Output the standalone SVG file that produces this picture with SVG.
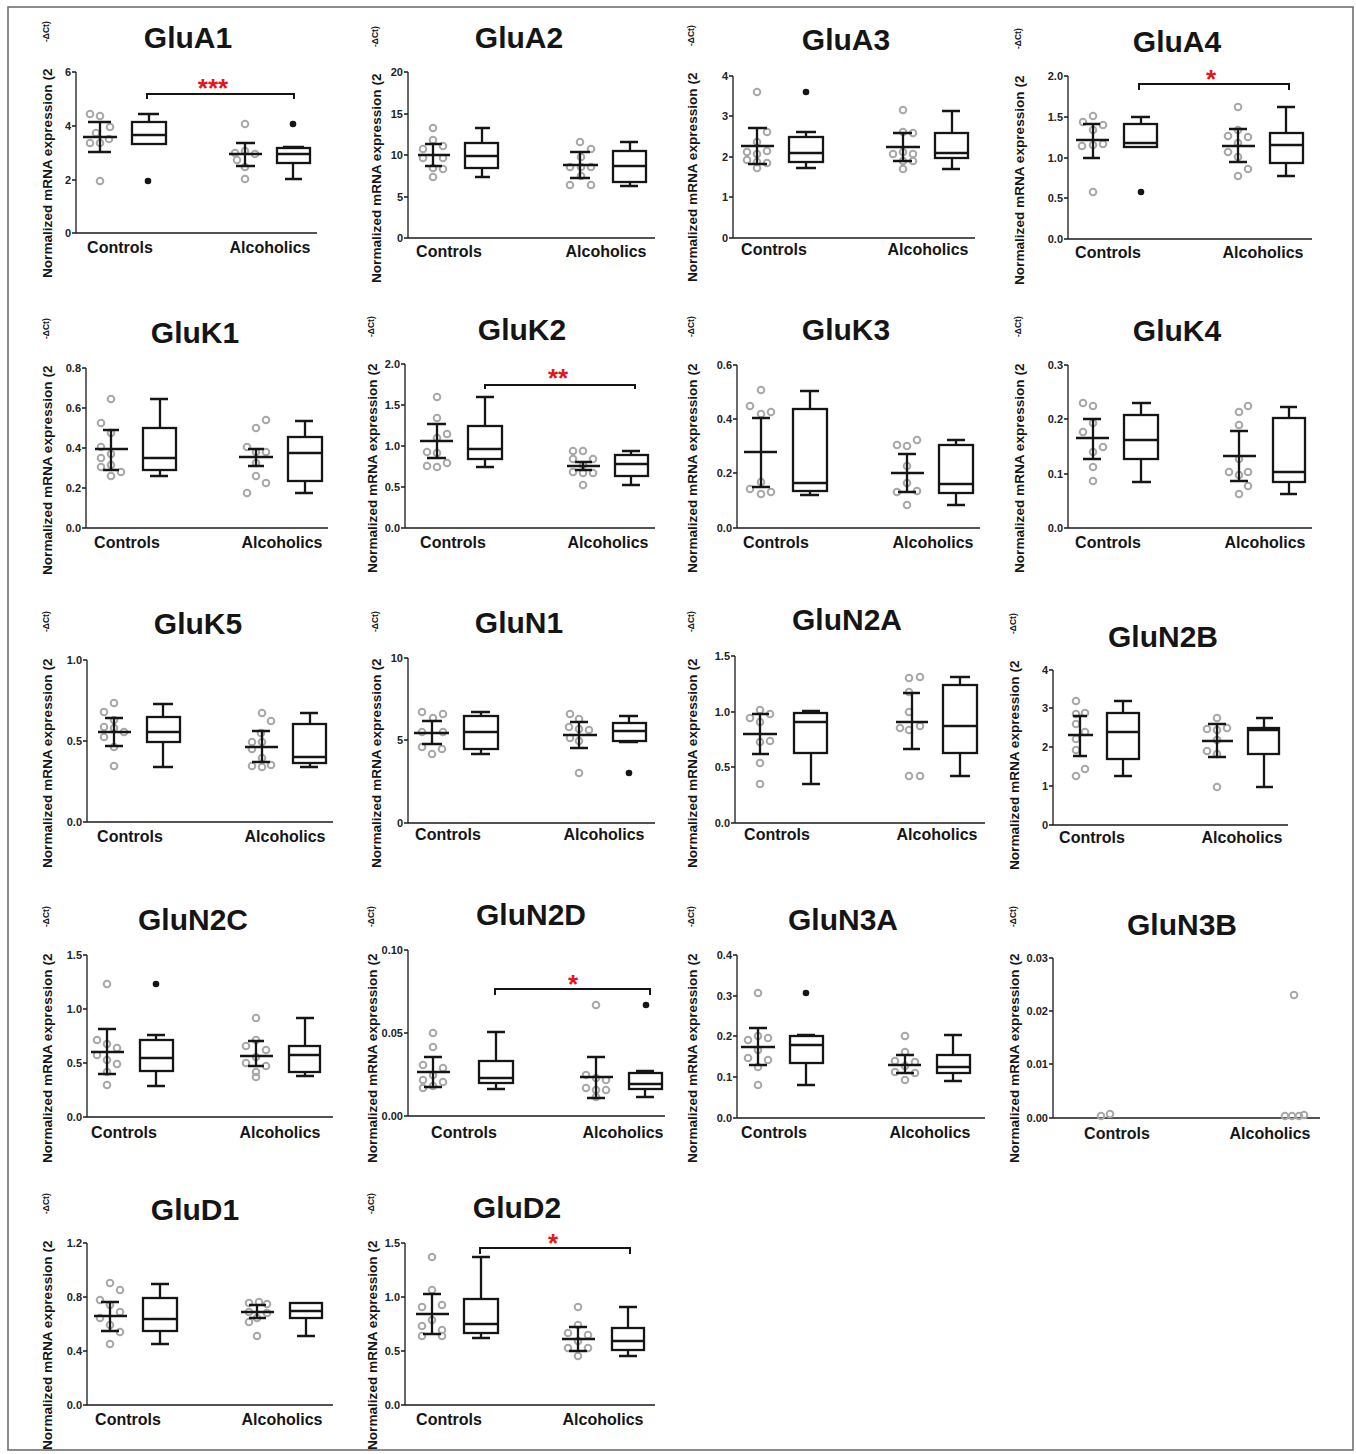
<svg xmlns="http://www.w3.org/2000/svg" width="1356" height="1454" viewBox="0 0 1356 1454">
<style>
.frame{fill:#fff;stroke:#707070;stroke-width:1.6}
.ax{stroke:#1a1a1a;stroke-width:1.3;fill:none}
text{font-family:"Liberation Sans",Arial,sans-serif;font-weight:bold}
.tl{font-size:11px;fill:#222;text-anchor:end}
.tt{font-size:30px;fill:#151515;text-anchor:middle}
.gl{font-size:16px;fill:#151515;text-anchor:middle}
.yl{font-size:13.6px;fill:#151515}
.ys{font-size:8.5px;fill:#151515}
.pt{fill:none;stroke:#a8a8a8;stroke-width:2}
.ol{fill:#151515}
.ln{stroke:#151515;stroke-width:2.3;fill:none}
.bx{fill:#fff;stroke:#151515;stroke-width:2.3}
.sg{font-size:26px;fill:#e8141b;text-anchor:middle}
</style>
<defs>
<circle id="p" r="3.3" class="pt"/>
<circle id="o" r="3.3" class="ol"/>
</defs>
<rect class="frame" x="8" y="7" width="1345" height="1443"/>

<!-- GluA1 -->
<g id="GluA1">
<path class="ax" d="M76,72V233H317M72,72H76M72,126H76M72,180H76M72,233H76"/>
<text class="tl" x="71" y="76">6</text><text class="tl" x="71" y="130">4</text><text class="tl" x="71" y="184">2</text><text class="tl" x="71" y="237">0</text>
<text class="tt" x="188" y="48">GluA1</text>
<text class="gl" x="120" y="253">Controls</text><text class="gl" x="270" y="253">Alcoholics</text>
<text class="yl" x="52" y="278" transform="rotate(-90 52 278)">Normalized mRNA expression (2</text>
<text class="ys" x="49" y="42" transform="rotate(-90 49 42)">-ΔCt)</text>
<use href="#p" x="90" y="114"/><use href="#p" x="100" y="116"/><use href="#p" x="110" y="127"/><use href="#p" x="96" y="133"/><use href="#p" x="90" y="143"/><use href="#p" x="100" y="143"/><use href="#p" x="109" y="139"/><use href="#p" x="100" y="181"/>
<path class="ln" d="M83,137H117M100,122V152M88,122H111M88,152H111"/>
<rect class="bx" x="132" y="122" width="34" height="22"/>
<path class="ln" d="M132,135H166M149,122V114M138,114H159"/>
<use href="#o" x="148" y="181"/>
<use href="#p" x="245" y="124"/><use href="#p" x="235" y="153"/><use href="#p" x="245" y="151"/><use href="#p" x="255" y="154"/><use href="#p" x="237" y="160"/><use href="#p" x="245" y="167"/><use href="#p" x="245" y="179"/>
<path class="ln" d="M229,154H262M245,143V166M236,143H255M236,166H255"/>
<rect class="bx" x="277" y="148" width="33" height="15"/>
<path class="ln" d="M277,154H310M283,147H304M293,163V179M285,179H302"/>
<use href="#o" x="293" y="124"/>
<path class="ln" d="M147,99V94H294V99" style="stroke-width:2"/>
<text class="sg" x="213" y="97">***</text>
</g>

<!-- GluA2 -->
<g id="GluA2">
<path class="ax" d="M408,72V238H655M404,72H408M404,114H408M404,155H408M404,197H408M404,238H408"/>
<text class="tl" x="403" y="76">20</text><text class="tl" x="403" y="118">15</text><text class="tl" x="403" y="159">10</text><text class="tl" x="403" y="201">5</text><text class="tl" x="403" y="242">0</text>
<text class="tt" x="519" y="48">GluA2</text>
<text class="gl" x="449" y="257">Controls</text><text class="gl" x="606" y="257">Alcoholics</text>
<text class="yl" x="381" y="283" transform="rotate(-90 381 283)">Normalized mRNA expression (2</text>
<text class="ys" x="378" y="47" transform="rotate(-90 378 47)">-ΔCt)</text>
<use href="#p" x="433" y="128"/><use href="#p" x="433" y="140"/><use href="#p" x="443" y="146"/><use href="#p" x="423" y="149"/><use href="#p" x="443" y="158"/><use href="#p" x="423" y="158"/><use href="#p" x="433" y="168"/><use href="#p" x="443" y="169"/><use href="#p" x="433" y="177"/>
<path class="ln" d="M418,155H450M433,144V166M425,144H442M425,166H442"/>
<rect class="bx" x="465" y="143" width="33" height="25"/>
<path class="ln" d="M465,156H498M482,143V128M475,128H490M482,168V177M475,177H490"/>
<use href="#p" x="580" y="142"/><use href="#p" x="591" y="149"/><use href="#p" x="581" y="157"/><use href="#p" x="570" y="167"/><use href="#p" x="581" y="167"/><use href="#p" x="591" y="167"/><use href="#p" x="570" y="185"/><use href="#p" x="581" y="176"/><use href="#p" x="591" y="185"/>
<path class="ln" d="M563,165H598M580,152V178M570,152H590M570,178H590"/>
<rect class="bx" x="613" y="151" width="33" height="31"/>
<path class="ln" d="M613,166H646M630,151V142M620,142H638M630,182V186M620,186H638"/>
</g>

<!-- GluA3 -->
<g id="GluA3">
<path class="ax" d="M733,76V238H975M729,76H733M729,116H733M729,157H733M729,197H733M729,238H733"/>
<text class="tl" x="728" y="80">4</text><text class="tl" x="728" y="120">3</text><text class="tl" x="728" y="161">2</text><text class="tl" x="728" y="201">1</text><text class="tl" x="728" y="242">0</text>
<text class="tt" x="846" y="50">GluA3</text>
<text class="gl" x="774" y="255">Controls</text><text class="gl" x="928" y="255">Alcoholics</text>
<text class="yl" x="697" y="282" transform="rotate(-90 697 282)">Normalized mRNA expression (2</text>
<text class="ys" x="694" y="46" transform="rotate(-90 694 46)">-ΔCt)</text>
<use href="#p" x="757" y="92"/><use href="#p" x="767" y="132"/><use href="#p" x="757" y="142"/><use href="#p" x="747" y="152"/><use href="#p" x="757" y="154"/><use href="#p" x="767" y="151"/><use href="#p" x="747" y="160"/><use href="#p" x="757" y="162"/><use href="#p" x="767" y="163"/><use href="#p" x="757" y="168"/>
<path class="ln" d="M741,146H774M757,128V164M748,128H767M748,164H767"/>
<rect class="bx" x="789" y="137" width="34" height="25"/>
<path class="ln" d="M789,153H823M806,137V132M796,132H816M806,162V168M796,168H816"/>
<use href="#o" x="806" y="92"/>
<use href="#p" x="903" y="110"/><use href="#p" x="903" y="132"/><use href="#p" x="913" y="133"/><use href="#p" x="893" y="154"/><use href="#p" x="903" y="152"/><use href="#p" x="913" y="154"/><use href="#p" x="903" y="161"/><use href="#p" x="913" y="161"/><use href="#p" x="903" y="169"/>
<path class="ln" d="M886,147H920M903,133V161M893,133H912M893,161H912"/>
<rect class="bx" x="935" y="133" width="33" height="25"/>
<path class="ln" d="M935,153H968M952,133V111M942,111H960M952,158V169M942,169H960"/>
</g>

<!-- GluA4 -->
<g id="GluA4">
<path class="ax" d="M1068,76V239H1312M1064,76H1068M1064,117H1068M1064,158H1068M1064,198H1068M1064,239H1068"/>
<text class="tl" x="1063" y="80">2.0</text><text class="tl" x="1063" y="121">1.5</text><text class="tl" x="1063" y="162">1.0</text><text class="tl" x="1063" y="202">0.5</text><text class="tl" x="1063" y="243">0.0</text>
<text class="tt" x="1177" y="52">GluA4</text>
<text class="gl" x="1108" y="258">Controls</text><text class="gl" x="1263" y="258">Alcoholics</text>
<text class="yl" x="1024" y="285" transform="rotate(-90 1024 285)">Normalized mRNA expression (2</text>
<text class="ys" x="1021" y="49" transform="rotate(-90 1021 49)">-ΔCt)</text>
<use href="#p" x="1083" y="122"/><use href="#p" x="1093" y="116"/><use href="#p" x="1103" y="125"/><use href="#p" x="1093" y="130"/><use href="#p" x="1082" y="146"/><use href="#p" x="1093" y="145"/><use href="#p" x="1103" y="144"/><use href="#p" x="1093" y="192"/>
<path class="ln" d="M1076,140H1109M1093,124V158M1083,124H1100M1083,158H1100"/>
<rect class="bx" x="1124" y="124" width="33" height="23"/>
<path class="ln" d="M1124,143H1157M1141,124V117M1131,117H1150"/>
<use href="#o" x="1141" y="192"/>
<use href="#p" x="1238" y="107"/><use href="#p" x="1238" y="130"/><use href="#p" x="1228" y="136"/><use href="#p" x="1248" y="137"/><use href="#p" x="1238" y="143"/><use href="#p" x="1228" y="152"/><use href="#p" x="1238" y="157"/><use href="#p" x="1248" y="169"/><use href="#p" x="1238" y="176"/>
<path class="ln" d="M1222,146H1255M1238,129V162M1229,129H1247M1229,162H1247"/>
<rect class="bx" x="1270" y="133" width="33" height="30"/>
<path class="ln" d="M1270,145H1303M1286,133V107M1277,107H1295M1286,163V176M1277,176H1295"/>
<path class="ln" d="M1139,90V84H1289V90" style="stroke-width:2"/>
<text class="sg" x="1211" y="88">*</text>
</g>

<!-- GluK1 -->
<g id="GluK1">
<path class="ax" d="M86,368V528H328M82,368H86M82,408H86M82,448H86M82,488H86M82,528H86"/>
<text class="tl" x="81" y="372">0.8</text><text class="tl" x="81" y="412">0.6</text><text class="tl" x="81" y="452">0.4</text><text class="tl" x="81" y="492">0.2</text><text class="tl" x="81" y="532">0.0</text>
<text class="tt" x="195" y="343">GluK1</text>
<text class="gl" x="127" y="548">Controls</text><text class="gl" x="282" y="548">Alcoholics</text>
<text class="yl" x="52" y="575" transform="rotate(-90 52 575)">Normalized mRNA expression (2</text>
<text class="ys" x="49" y="339" transform="rotate(-90 49 339)">-ΔCt)</text>
<use href="#p" x="111" y="399"/><use href="#p" x="101" y="423"/><use href="#p" x="111" y="433"/><use href="#p" x="101" y="447"/><use href="#p" x="111" y="454"/><use href="#p" x="101" y="458"/><use href="#p" x="111" y="465"/><use href="#p" x="101" y="467"/><use href="#p" x="121" y="472"/><use href="#p" x="111" y="476"/>
<path class="ln" d="M95,449H128M111,430V470M103,430H119M103,470H119"/>
<rect class="bx" x="143" y="428" width="33" height="42"/>
<path class="ln" d="M143,458H176M160,428V399M150,399H168M160,470V476M150,476H168"/>
<use href="#p" x="266" y="420"/><use href="#p" x="256" y="428"/><use href="#p" x="247" y="447"/><use href="#p" x="256" y="452"/><use href="#p" x="266" y="452"/><use href="#p" x="256" y="463"/><use href="#p" x="256" y="476"/><use href="#p" x="266" y="483"/><use href="#p" x="247" y="493"/>
<path class="ln" d="M239,457H273M256,449V466M248,449H264M248,466H264"/>
<rect class="bx" x="288" y="437" width="34" height="44"/>
<path class="ln" d="M288,453H322M305,437V421M295,421H313M305,481V493M295,493H313"/>
</g>

<!-- GluK2 -->
<g id="GluK2">
<path class="ax" d="M405,364V528H655M401,364H405M401,405H405M401,446H405M401,487H405M401,528H405"/>
<text class="tl" x="400" y="368">2.0</text><text class="tl" x="400" y="409">1.5</text><text class="tl" x="400" y="450">1.0</text><text class="tl" x="400" y="491">0.5</text><text class="tl" x="400" y="532">0.0</text>
<text class="tt" x="522" y="340">GluK2</text>
<text class="gl" x="453" y="548">Controls</text><text class="gl" x="608" y="548">Alcoholics</text>
<text class="yl" x="377" y="573" transform="rotate(-90 377 573)">Normalized mRNA expression (2</text>
<text class="ys" x="374" y="337" transform="rotate(-90 374 337)">-ΔCt)</text>
<use href="#p" x="437" y="397"/><use href="#p" x="437" y="418"/><use href="#p" x="447" y="434"/><use href="#p" x="437" y="438"/><use href="#p" x="427" y="452"/><use href="#p" x="437" y="453"/><use href="#p" x="447" y="463"/><use href="#p" x="427" y="466"/><use href="#p" x="437" y="467"/>
<path class="ln" d="M420,441H453M437,424V458M427,424H446M427,458H446"/>
<rect class="bx" x="468" y="426" width="34" height="33"/>
<path class="ln" d="M468,449H502M485,426V397M476,397H494M485,459V467M476,467H494"/>
<use href="#p" x="573" y="451"/><use href="#p" x="583" y="451"/><use href="#p" x="573" y="459"/><use href="#p" x="593" y="459"/><use href="#p" x="583" y="465"/><use href="#p" x="573" y="472"/><use href="#p" x="583" y="473"/><use href="#p" x="593" y="473"/><use href="#p" x="583" y="485"/>
<path class="ln" d="M567,466H600M583,462V470M575,462H592M575,470H592"/>
<rect class="bx" x="615" y="455" width="33" height="21"/>
<path class="ln" d="M615,464H648M631,455V451M622,451H640M631,476V485M622,485H640"/>
<path class="ln" d="M485,389V385H635V389" style="stroke-width:2"/>
<text class="sg" x="558" y="387">**</text>
</g>

<!-- GluK3 -->
<g id="GluK3">
<path class="ax" d="M737,365V528H980M733,365H737M733,419H737M733,473H737M733,528H737"/>
<text class="tl" x="732" y="369">0.6</text><text class="tl" x="732" y="423">0.4</text><text class="tl" x="732" y="477">0.2</text><text class="tl" x="732" y="532">0.0</text>
<text class="tt" x="846" y="340">GluK3</text>
<text class="gl" x="776" y="548">Controls</text><text class="gl" x="933" y="548">Alcoholics</text>
<text class="yl" x="697" y="573" transform="rotate(-90 697 573)">Normalized mRNA expression (2</text>
<text class="ys" x="694" y="337" transform="rotate(-90 694 337)">-ΔCt)</text>
<use href="#p" x="761" y="390"/><use href="#p" x="750" y="406"/><use href="#p" x="761" y="414"/><use href="#p" x="771" y="412"/><use href="#p" x="761" y="482"/><use href="#p" x="750" y="489"/><use href="#p" x="761" y="494"/><use href="#p" x="771" y="492"/>
<path class="ln" d="M744,452H777M761,418V487M752,418H770M752,487H770"/>
<rect class="bx" x="793" y="409" width="34" height="82"/>
<path class="ln" d="M793,483H827M810,409V391M800,391H819M810,491V495M800,495H819"/>
<use href="#p" x="897" y="445"/><use href="#p" x="907" y="446"/><use href="#p" x="917" y="440"/><use href="#p" x="907" y="466"/><use href="#p" x="907" y="483"/><use href="#p" x="897" y="492"/><use href="#p" x="917" y="491"/><use href="#p" x="907" y="505"/>
<path class="ln" d="M891,473H924M907,454V492M898,454H916M898,492H916"/>
<rect class="bx" x="939" y="445" width="34" height="48"/>
<path class="ln" d="M939,484H973M956,445V440M947,440H965M956,493V505M947,505H965"/>
</g>

<!-- GluK4 -->
<g id="GluK4">
<path class="ax" d="M1068,365V528H1312M1064,365H1068M1064,419H1068M1064,474H1068M1064,528H1068"/>
<text class="tl" x="1063" y="369">0.3</text><text class="tl" x="1063" y="423">0.2</text><text class="tl" x="1063" y="478">0.1</text><text class="tl" x="1063" y="532">0.0</text>
<text class="tt" x="1177" y="341">GluK4</text>
<text class="gl" x="1108" y="548">Controls</text><text class="gl" x="1265" y="548">Alcoholics</text>
<text class="yl" x="1024" y="573" transform="rotate(-90 1024 573)">Normalized mRNA expression (2</text>
<text class="ys" x="1021" y="337" transform="rotate(-90 1021 337)">-ΔCt)</text>
<use href="#p" x="1083" y="403"/><use href="#p" x="1093" y="406"/><use href="#p" x="1083" y="432"/><use href="#p" x="1093" y="423"/><use href="#p" x="1093" y="452"/><use href="#p" x="1103" y="447"/><use href="#p" x="1093" y="467"/><use href="#p" x="1093" y="481"/>
<path class="ln" d="M1076,438H1109M1093,419V459M1083,419H1101M1083,459H1101"/>
<rect class="bx" x="1124" y="415" width="34" height="44"/>
<path class="ln" d="M1124,440H1158M1141,415V403M1132,403H1151M1141,459V482M1132,482H1151"/>
<use href="#p" x="1239" y="412"/><use href="#p" x="1248" y="406"/><use href="#p" x="1239" y="425"/><use href="#p" x="1239" y="459"/><use href="#p" x="1229" y="472"/><use href="#p" x="1239" y="475"/><use href="#p" x="1248" y="472"/><use href="#p" x="1248" y="486"/><use href="#p" x="1239" y="494"/>
<path class="ln" d="M1223,456H1256M1239,431V481M1230,431H1248M1230,481H1248"/>
<rect class="bx" x="1273" y="418" width="32" height="64"/>
<path class="ln" d="M1273,472H1305M1289,418V407M1280,407H1297M1289,482V494M1280,494H1297"/>
</g>

<!-- GluK5 -->
<g id="GluK5">
<path class="ax" d="M87,660V822H333M83,660H87M83,741H87M83,822H87"/>
<text class="tl" x="82" y="664">1.0</text><text class="tl" x="82" y="745">0.5</text><text class="tl" x="82" y="826">0.0</text>
<text class="tt" x="198" y="634">GluK5</text>
<text class="gl" x="130" y="842">Controls</text><text class="gl" x="285" y="842">Alcoholics</text>
<text class="yl" x="52" y="868" transform="rotate(-90 52 868)">Normalized mRNA expression (2</text>
<text class="ys" x="49" y="632" transform="rotate(-90 49 632)">-ΔCt)</text>
<use href="#p" x="114" y="703"/><use href="#p" x="104" y="712"/><use href="#p" x="114" y="720"/><use href="#p" x="104" y="727"/><use href="#p" x="114" y="728"/><use href="#p" x="124" y="732"/><use href="#p" x="104" y="737"/><use href="#p" x="114" y="747"/><use href="#p" x="114" y="766"/>
<path class="ln" d="M98,732H131M114,718V746M105,718H123M105,746H123"/>
<rect class="bx" x="147" y="717" width="33" height="25"/>
<path class="ln" d="M147,732H180M163,717V704M153,704H173M163,742V767M153,767H173"/>
<use href="#p" x="262" y="713"/><use href="#p" x="271" y="721"/><use href="#p" x="261" y="733"/><use href="#p" x="252" y="742"/><use href="#p" x="262" y="742"/><use href="#p" x="252" y="749"/><use href="#p" x="262" y="758"/><use href="#p" x="252" y="766"/><use href="#p" x="262" y="767"/><use href="#p" x="271" y="765"/>
<path class="ln" d="M245,747H278M262,731V762M252,731H270M252,762H270"/>
<rect class="bx" x="293" y="724" width="33" height="39"/>
<path class="ln" d="M293,757H326M310,724V713M300,713H318M310,763V767M300,767H318"/>
</g>

<!-- GluN1 -->
<g id="GluN1">
<path class="ax" d="M408,658V823H655M404,658H408M404,740H408M404,823H408"/>
<text class="tl" x="403" y="662">10</text><text class="tl" x="403" y="744">5</text><text class="tl" x="403" y="827">0</text>
<text class="tt" x="519" y="633">GluN1</text>
<text class="gl" x="448" y="840">Controls</text><text class="gl" x="604" y="840">Alcoholics</text>
<text class="yl" x="381" y="868" transform="rotate(-90 381 868)">Normalized mRNA expression (2</text>
<text class="ys" x="378" y="632" transform="rotate(-90 378 632)">-ΔCt)</text>
<use href="#p" x="422" y="712"/><use href="#p" x="433" y="718"/><use href="#p" x="443" y="714"/><use href="#p" x="422" y="732"/><use href="#p" x="443" y="732"/><use href="#p" x="422" y="747"/><use href="#p" x="442" y="749"/><use href="#p" x="432" y="754"/>
<path class="ln" d="M414,733H449M432,721V744M422,721H442M422,744H442"/>
<rect class="bx" x="464" y="716" width="34" height="33"/>
<path class="ln" d="M464,732H498M481,716V712M471,712H490M481,749V754M471,754H490"/>
<use href="#p" x="570" y="714"/><use href="#p" x="579" y="719"/><use href="#p" x="569" y="727"/><use href="#p" x="579" y="729"/><use href="#p" x="589" y="730"/><use href="#p" x="570" y="738"/><use href="#p" x="579" y="741"/><use href="#p" x="579" y="773"/>
<path class="ln" d="M563,735H597M579,722V748M570,722H588M570,748H588"/>
<rect class="bx" x="613" y="723" width="33" height="18"/>
<path class="ln" d="M613,731H646M629,723V716M619,716H638M619,742H638"/>
<use href="#o" x="629" y="773"/>
</g>

<!-- GluN2A -->
<g id="GluN2A">
<path class="ax" d="M735,656V823H985M731,656H735M731,712H735M731,767H735M731,823H735"/>
<text class="tl" x="730" y="660">1.5</text><text class="tl" x="730" y="716">1.0</text><text class="tl" x="730" y="771">0.5</text><text class="tl" x="730" y="827">0.0</text>
<text class="tt" x="847" y="630">GluN2A</text>
<text class="gl" x="777" y="840">Controls</text><text class="gl" x="937" y="840">Alcoholics</text>
<text class="yl" x="697" y="868" transform="rotate(-90 697 868)">Normalized mRNA expression (2</text>
<text class="ys" x="694" y="632" transform="rotate(-90 694 632)">-ΔCt)</text>
<use href="#p" x="760" y="710"/><use href="#p" x="750" y="718"/><use href="#p" x="770" y="714"/><use href="#p" x="760" y="722"/><use href="#p" x="760" y="742"/><use href="#p" x="770" y="741"/><use href="#p" x="760" y="763"/><use href="#p" x="760" y="784"/>
<path class="ln" d="M743,734H777M760,714V754M752,714H769M752,754H769"/>
<rect class="bx" x="794" y="713" width="33" height="40"/>
<path class="ln" d="M794,722H827M811,713V711M802,711H820M811,753V784M802,784H820"/>
<use href="#p" x="909" y="678"/><use href="#p" x="920" y="677"/><use href="#p" x="909" y="692"/><use href="#p" x="909" y="712"/><use href="#p" x="900" y="728"/><use href="#p" x="909" y="730"/><use href="#p" x="920" y="726"/><use href="#p" x="909" y="776"/><use href="#p" x="920" y="776"/>
<path class="ln" d="M896,722H928M912,693V749M903,693H920M903,749H920"/>
<rect class="bx" x="943" y="685" width="34" height="68"/>
<path class="ln" d="M943,726H977M960,685V677M950,677H970M960,753V776M950,776H970"/>
</g>

<!-- GluN2B -->
<g id="GluN2B">
<path class="ax" d="M1053,670V825H1288M1049,670H1053M1049,708H1053M1049,747H1053M1049,786H1053M1049,825H1053"/>
<text class="tl" x="1048" y="674">4</text><text class="tl" x="1048" y="712">3</text><text class="tl" x="1048" y="751">2</text><text class="tl" x="1048" y="790">1</text><text class="tl" x="1048" y="829">0</text>
<text class="tt" x="1163" y="647">GluN2B</text>
<text class="gl" x="1092" y="843">Controls</text><text class="gl" x="1242" y="843">Alcoholics</text>
<text class="yl" x="1019" y="870" transform="rotate(-90 1019 870)">Normalized mRNA expression (2</text>
<text class="ys" x="1016" y="634" transform="rotate(-90 1016 634)">-ΔCt)</text>
<use href="#p" x="1076" y="701"/><use href="#p" x="1076" y="714"/><use href="#p" x="1085" y="713"/><use href="#p" x="1076" y="724"/><use href="#p" x="1085" y="732"/><use href="#p" x="1076" y="739"/><use href="#p" x="1076" y="750"/><use href="#p" x="1085" y="769"/><use href="#p" x="1076" y="776"/>
<path class="ln" d="M1068,735H1093M1080,716V756M1073,716H1087M1073,756H1087"/>
<rect class="bx" x="1107" y="713" width="32" height="46"/>
<path class="ln" d="M1107,732H1139M1123,713V701M1114,701H1132M1123,759V776M1114,776H1132"/>
<use href="#p" x="1217" y="718"/><use href="#p" x="1207" y="729"/><use href="#p" x="1217" y="730"/><use href="#p" x="1227" y="728"/><use href="#p" x="1217" y="740"/><use href="#p" x="1207" y="751"/><use href="#p" x="1217" y="754"/><use href="#p" x="1217" y="787"/>
<path class="ln" d="M1202,741H1233M1217,724V757M1208,724H1226M1208,757H1226"/>
<rect class="bx" x="1248" y="728" width="31" height="26"/>
<path class="ln" d="M1248,730H1279M1264,728V718M1256,718H1273M1264,754V787M1256,787H1273"/>
</g>

<!-- GluN2C -->
<g id="GluN2C">
<path class="ax" d="M87,955V1117H333M83,955H87M83,1009H87M83,1063H87M83,1117H87"/>
<text class="tl" x="82" y="959">1.5</text><text class="tl" x="82" y="1013">1.0</text><text class="tl" x="82" y="1067">0.5</text><text class="tl" x="82" y="1121">0.0</text>
<text class="tt" x="193" y="930">GluN2C</text>
<text class="gl" x="124" y="1138">Controls</text><text class="gl" x="280" y="1138">Alcoholics</text>
<text class="yl" x="52" y="1163" transform="rotate(-90 52 1163)">Normalized mRNA expression (2</text>
<text class="ys" x="49" y="927" transform="rotate(-90 49 927)">-ΔCt)</text>
<use href="#p" x="107" y="984"/><use href="#p" x="97" y="1040"/><use href="#p" x="107" y="1044"/><use href="#p" x="117" y="1048"/><use href="#p" x="97" y="1055"/><use href="#p" x="107" y="1060"/><use href="#p" x="117" y="1064"/><use href="#p" x="107" y="1072"/><use href="#p" x="107" y="1085"/>
<path class="ln" d="M91,1052H124M107,1029V1074M98,1029H116M98,1074H116"/>
<rect class="bx" x="140" y="1040" width="33" height="31"/>
<path class="ln" d="M140,1058H173M156,1040V1035M147,1035H165M156,1071V1086M147,1086H165"/>
<use href="#o" x="156" y="984"/>
<use href="#p" x="256" y="1018"/><use href="#p" x="256" y="1040"/><use href="#p" x="246" y="1046"/><use href="#p" x="266" y="1050"/><use href="#p" x="256" y="1057"/><use href="#p" x="246" y="1063"/><use href="#p" x="266" y="1066"/><use href="#p" x="256" y="1072"/><use href="#p" x="256" y="1077"/>
<path class="ln" d="M240,1056H273M256,1041V1066M248,1041H264M248,1066H264"/>
<rect class="bx" x="289" y="1046" width="31" height="26"/>
<path class="ln" d="M289,1055H320M305,1046V1018M296,1018H314M305,1072V1076M296,1076H314"/>
</g>

<!-- GluN2D -->
<g id="GluN2D">
<path class="ax" d="M408,950V1116H665M404,950H408M404,1033H408M404,1116H408"/>
<text class="tl" x="403" y="954">0.10</text><text class="tl" x="403" y="1037">0.05</text><text class="tl" x="403" y="1120">0.00</text>
<text class="tt" x="531" y="925">GluN2D</text>
<text class="gl" x="464" y="1138">Controls</text><text class="gl" x="623" y="1138">Alcoholics</text>
<text class="yl" x="377" y="1163" transform="rotate(-90 377 1163)">Normalized mRNA expression (2</text>
<text class="ys" x="374" y="927" transform="rotate(-90 374 927)">-ΔCt)</text>
<use href="#p" x="433" y="1033"/><use href="#p" x="433" y="1047"/><use href="#p" x="423" y="1065"/><use href="#p" x="443" y="1068"/><use href="#p" x="433" y="1075"/><use href="#p" x="423" y="1080"/><use href="#p" x="443" y="1082"/><use href="#p" x="433" y="1086"/><use href="#p" x="423" y="1088"/>
<path class="ln" d="M417,1072H450M433,1057V1087M424,1057H442M424,1087H442"/>
<rect class="bx" x="479" y="1061" width="34" height="22"/>
<path class="ln" d="M479,1078H513M496,1061V1032M487,1032H505M496,1083V1089M487,1089H505"/>
<use href="#p" x="596" y="1005"/><use href="#p" x="586" y="1075"/><use href="#p" x="596" y="1078"/><use href="#p" x="606" y="1080"/><use href="#p" x="586" y="1088"/><use href="#p" x="596" y="1090"/><use href="#p" x="606" y="1090"/><use href="#p" x="596" y="1097"/>
<path class="ln" d="M580,1077H613M596,1057V1098M587,1057H605M587,1098H605"/>
<rect class="bx" x="629" y="1073" width="33" height="16"/>
<path class="ln" d="M629,1084H662M645,1073V1071M636,1071H654M645,1089V1097M636,1097H654"/>
<use href="#o" x="646" y="1005"/>
<path class="ln" d="M495,995V989H650V995" style="stroke-width:2"/>
<text class="sg" x="573" y="993">*</text>
</g>

<!-- GluN3A -->
<g id="GluN3A">
<path class="ax" d="M737,955V1118H985M733,955H737M733,996H737M733,1036H737M733,1077H737M733,1118H737"/>
<text class="tl" x="732" y="959">0.4</text><text class="tl" x="732" y="1000">0.3</text><text class="tl" x="732" y="1040">0.2</text><text class="tl" x="732" y="1081">0.1</text><text class="tl" x="732" y="1122">0.0</text>
<text class="tt" x="843" y="930">GluN3A</text>
<text class="gl" x="774" y="1138">Controls</text><text class="gl" x="930" y="1138">Alcoholics</text>
<text class="yl" x="697" y="1163" transform="rotate(-90 697 1163)">Normalized mRNA expression (2</text>
<text class="ys" x="694" y="927" transform="rotate(-90 694 927)">-ΔCt)</text>
<use href="#p" x="758" y="993"/><use href="#p" x="758" y="1036"/><use href="#p" x="748" y="1040"/><use href="#p" x="768" y="1038"/><use href="#p" x="758" y="1050"/><use href="#p" x="748" y="1058"/><use href="#p" x="768" y="1060"/><use href="#p" x="758" y="1067"/><use href="#p" x="758" y="1085"/>
<path class="ln" d="M741,1047H775M758,1028V1065M749,1028H767M749,1065H767"/>
<rect class="bx" x="790" y="1036" width="33" height="27"/>
<path class="ln" d="M790,1045H823M806,1036V1035M797,1035H815M806,1063V1085M797,1085H815"/>
<use href="#o" x="806" y="993"/>
<use href="#p" x="905" y="1036"/><use href="#p" x="905" y="1052"/><use href="#p" x="895" y="1061"/><use href="#p" x="915" y="1062"/><use href="#p" x="905" y="1066"/><use href="#p" x="895" y="1072"/><use href="#p" x="915" y="1073"/><use href="#p" x="905" y="1080"/>
<path class="ln" d="M888,1065H921M905,1055V1073M896,1055H914M896,1073H914"/>
<rect class="bx" x="937" y="1055" width="33" height="18"/>
<path class="ln" d="M937,1067H970M953,1055V1035M944,1035H962M953,1073V1081M944,1081H962"/>
</g>

<!-- GluN3B -->
<g id="GluN3B">
<path class="ax" d="M1053,958V1118H1320M1049,958H1053M1049,1011H1053M1049,1064H1053M1049,1118H1053"/>
<text class="tl" x="1048" y="962">0.03</text><text class="tl" x="1048" y="1015">0.02</text><text class="tl" x="1048" y="1068">0.01</text><text class="tl" x="1048" y="1122">0.00</text>
<text class="tt" x="1182" y="935">GluN3B</text>
<text class="gl" x="1117" y="1139">Controls</text><text class="gl" x="1270" y="1139">Alcoholics</text>
<text class="yl" x="1019" y="1163" transform="rotate(-90 1019 1163)">Normalized mRNA expression (2</text>
<text class="ys" x="1016" y="927" transform="rotate(-90 1016 927)">-ΔCt)</text>
<use href="#p" x="1101" y="1116"/><use href="#p" x="1110" y="1114"/>
<use href="#p" x="1285" y="1116"/><use href="#p" x="1292" y="1116"/><use href="#p" x="1299" y="1116"/><use href="#p" x="1304" y="1115"/><use href="#p" x="1294" y="995"/>
</g>

<!-- GluD1 -->
<g id="GluD1">
<path class="ax" d="M87,1243V1405H333M83,1243H87M83,1297H87M83,1351H87M83,1405H87"/>
<text class="tl" x="82" y="1247">1.2</text><text class="tl" x="82" y="1301">0.8</text><text class="tl" x="82" y="1355">0.4</text><text class="tl" x="82" y="1409">0.0</text>
<text class="tt" x="195" y="1220">GluD1</text>
<text class="gl" x="128" y="1425">Controls</text><text class="gl" x="282" y="1425">Alcoholics</text>
<text class="yl" x="52" y="1450" transform="rotate(-90 52 1450)">Normalized mRNA expression (2</text>
<text class="ys" x="49" y="1214" transform="rotate(-90 49 1214)">-ΔCt)</text>
<use href="#p" x="110" y="1283"/><use href="#p" x="120" y="1290"/><use href="#p" x="100" y="1300"/><use href="#p" x="110" y="1305"/><use href="#p" x="120" y="1312"/><use href="#p" x="100" y="1318"/><use href="#p" x="110" y="1325"/><use href="#p" x="120" y="1332"/><use href="#p" x="110" y="1344"/>
<path class="ln" d="M94,1316H127M110,1302V1331M101,1302H119M101,1331H119"/>
<rect class="bx" x="143" y="1298" width="34" height="33"/>
<path class="ln" d="M143,1319H177M160,1298V1284M151,1284H169M160,1331V1344M151,1344H169"/>
<use href="#p" x="249" y="1303"/><use href="#p" x="259" y="1302"/><use href="#p" x="267" y="1304"/><use href="#p" x="249" y="1312"/><use href="#p" x="267" y="1313"/><use href="#p" x="257" y="1318"/><use href="#p" x="249" y="1322"/><use href="#p" x="257" y="1336"/>
<path class="ln" d="M241,1312H274M257,1305V1318M249,1305H266M249,1318H266"/>
<rect class="bx" x="290" y="1303" width="32" height="15"/>
<path class="ln" d="M290,1311H322M306,1318V1336M297,1336H315"/>
</g>

<!-- GluD2 -->
<g id="GluD2">
<path class="ax" d="M405,1243V1405H655M401,1243H405M401,1297H405M401,1351H405M401,1405H405"/>
<text class="tl" x="400" y="1247">1.5</text><text class="tl" x="400" y="1301">1.0</text><text class="tl" x="400" y="1355">0.5</text><text class="tl" x="400" y="1409">0.0</text>
<text class="tt" x="517" y="1218">GluD2</text>
<text class="gl" x="449" y="1425">Controls</text><text class="gl" x="603" y="1425">Alcoholics</text>
<text class="yl" x="377" y="1450" transform="rotate(-90 377 1450)">Normalized mRNA expression (2</text>
<text class="ys" x="374" y="1214" transform="rotate(-90 374 1214)">-ΔCt)</text>
<use href="#p" x="432" y="1257"/><use href="#p" x="432" y="1290"/><use href="#p" x="422" y="1307"/><use href="#p" x="442" y="1305"/><use href="#p" x="432" y="1320"/><use href="#p" x="422" y="1326"/><use href="#p" x="442" y="1330"/><use href="#p" x="422" y="1336"/><use href="#p" x="442" y="1336"/>
<path class="ln" d="M416,1314H449M432,1294V1334M423,1294H441M423,1334H441"/>
<rect class="bx" x="464" y="1299" width="34" height="34"/>
<path class="ln" d="M464,1324H498M481,1299V1257M472,1257H490M481,1333V1338M472,1338H490"/>
<use href="#p" x="578" y="1307"/><use href="#p" x="578" y="1325"/><use href="#p" x="568" y="1333"/><use href="#p" x="588" y="1335"/><use href="#p" x="578" y="1341"/><use href="#p" x="568" y="1348"/><use href="#p" x="588" y="1348"/><use href="#p" x="578" y="1356"/>
<path class="ln" d="M562,1339H595M578,1327V1351M569,1327H587M569,1351H587"/>
<rect class="bx" x="612" y="1328" width="32" height="22"/>
<path class="ln" d="M612,1341H644M628,1328V1307M619,1307H637M628,1350V1356M619,1356H637"/>
<path class="ln" d="M480,1254V1248H630V1254" style="stroke-width:2"/>
<text class="sg" x="553" y="1252">*</text>
</g>
</svg>
